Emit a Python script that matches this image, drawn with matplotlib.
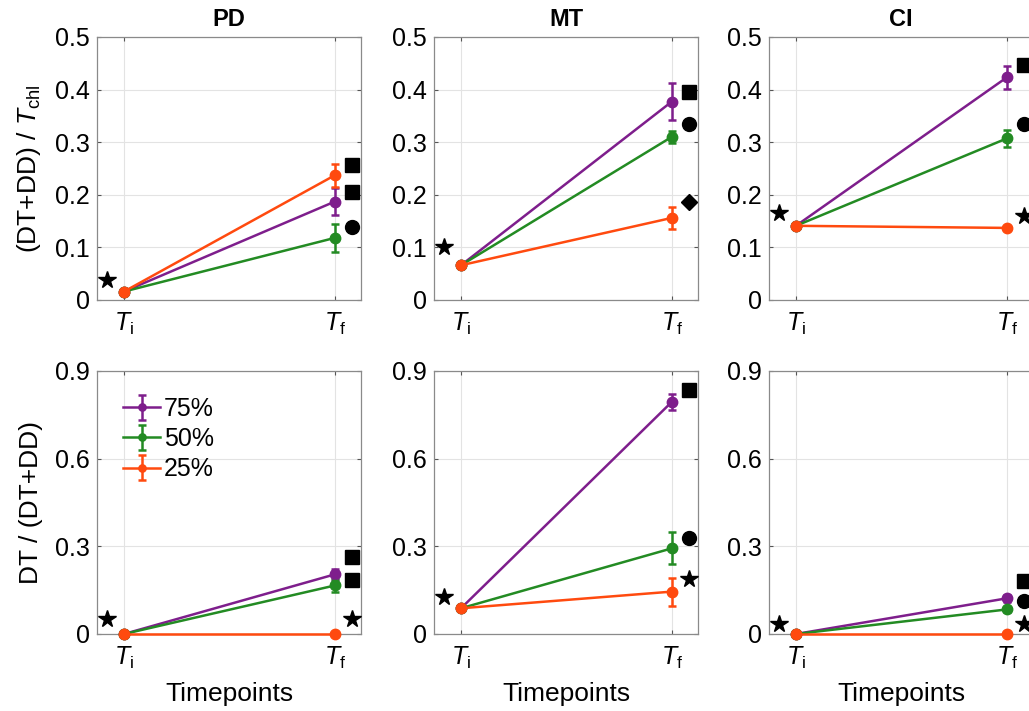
import matplotlib
matplotlib.use('Agg')
import matplotlib.pyplot as plt
import numpy as np

plt.rcParams['font.family'] = 'Liberation Sans'
plt.rcParams['mathtext.fontset'] = 'custom'
plt.rcParams['mathtext.rm'] = 'Liberation Sans'
plt.rcParams['mathtext.it'] = 'Liberation Sans:italic'

# data
panels = ['PD', 'MT', 'CI']
series = ['75%', '50%', '25%']
colors = ['#7E1E8C', '#238B23', '#FF4A0F']
timepoints = [1, 2]
tick_labels = [r'$T_\mathrm{i}$', r'$T_\mathrm{f}$']

# top row: (DT+DD)/Tchl, [panel][series] -> values at Ti, Tf
top_vals = [
    [[0.016, 0.187], [0.016, 0.118], [0.016, 0.237]],
    [[0.066, 0.377], [0.066, 0.310], [0.066, 0.156]],
    [[0.141, 0.423], [0.141, 0.307], [0.141, 0.137]],
]
top_err = [
    [[0.0, 0.026], [0.0, 0.027], [0.0, 0.022]],
    [[0.0, 0.035], [0.0, 0.011], [0.0, 0.021]],
    [[0.0, 0.022], [0.0, 0.017], [0.0, 0.0]],
]
# bottom row: DT/(DT+DD)
bot_vals = [
    [[0.0, 0.204], [0.0, 0.166], [0.0, 0.0]],
    [[0.088, 0.794], [0.088, 0.293], [0.088, 0.145]],
    [[0.0, 0.122], [0.0, 0.084], [0.0, 0.0]],
]
bot_err = [
    [[0.0, 0.020], [0.0, 0.021], [0.0, 0.0]],
    [[0.0, 0.026], [0.0, 0.055], [0.0, 0.048]],
    [[0.0, 0.012], [0.0, 0.008], [0.0, 0.0]],
]

# significance symbols: (x, y, marker)
top_sig = [
    [(0.92, 0.038, '*'), (2.08, 0.256, 's'), (2.08, 0.205, 's'), (2.08, 0.138, 'o')],
    [(0.92, 0.101, '*'), (2.08, 0.396, 's'), (2.08, 0.335, 'o'), (2.08, 0.187, 'D')],
    [(0.92, 0.165, '*'), (2.08, 0.446, 's'), (2.08, 0.335, 'o'), (2.08, 0.160, '*')],
]
bot_sig = [
    [(0.92, 0.050, '*'), (2.08, 0.264, 's'), (2.08, 0.185, 's'), (2.08, 0.050, '*')],
    [(0.92, 0.125, '*'), (2.08, 0.836, 's'), (2.08, 0.327, 'o'), (2.08, 0.187, '*')],
    [(0.92, 0.034, '*'), (2.08, 0.181, 's'), (2.08, 0.114, 'o'), (2.08, 0.034, '*')],
]

fig = plt.figure(figsize=(10.29, 7.11), dpi=100)

lefts = [0.0943, 0.4218, 0.7473]
w = 0.2566
h = 0.3699
bottoms = [0.5781, 0.1083]

sizes = {'*': 13, 's': 10, 'o': 10, 'D': 8}


def style_axes(ax, ylim, yticks):
    ax.set_xlim(0.872, 2.125)
    ax.set_ylim(*ylim)
    ax.set_yticks(yticks)
    ax.set_yticklabels(['0' if t == 0 else f'{t:g}' for t in yticks])
    ax.set_xticks(timepoints)
    ax.set_xticklabels(tick_labels)
    ax.grid(True, color='#e3e3e3', linewidth=0.8)
    ax.set_axisbelow(True)
    ax.tick_params(direction='in', length=3, labelsize=18, color='#555555', pad=5,
                   right=True, top=True)
    ax.tick_params(axis='x', pad=8)
    for s in ax.spines.values():
        s.set_color('#8a8a8a')
        s.set_linewidth(0.9)


for row, (vals, errs, sig, ylim, yticks) in enumerate([
        (top_vals, top_err, top_sig, (0, 0.5), [0, 0.1, 0.2, 0.3, 0.4, 0.5]),
        (bot_vals, bot_err, bot_sig, (0, 0.9), [0, 0.3, 0.6, 0.9])]):
    for col in range(3):
        ax = fig.add_axes([lefts[col], bottoms[row], w, h])
        style_axes(ax, ylim, yticks)
        handles = []
        for k in range(3):
            hnd = ax.errorbar(timepoints, vals[col][k], yerr=errs[col][k], color=colors[k],
                              marker='o', markersize=7.5, linewidth=1.8, capsize=3,
                              elinewidth=1.8, capthick=1.8, label=series[k], clip_on=False,
                              zorder=3)
            handles.append(hnd)
        for (sx, sy, m) in sig[col]:
            ax.plot(sx, sy, marker=m, color='black', markersize=sizes[m],
                    linestyle='none', clip_on=False, zorder=4)
        if row == 0:
            ax.set_title(panels[col], fontsize=17, fontweight='bold', pad=8)
        else:
            ax.set_xlabel('Timepoints', fontsize=19, labelpad=8)
        if col == 0:
            if row == 0:
                ax.set_ylabel(r'(DT+DD) / $T_\mathrm{chl}$', fontsize=19, labelpad=9)
            else:
                ax.set_ylabel('DT / (DT+DD)', fontsize=19, labelpad=9)
        if row == 1 and col == 0:
            ax.legend(handles=handles, loc='upper left', frameon=False, fontsize=18,
                      handlelength=1.5, handletextpad=0.15, labelspacing=0.25,
                      markerscale=0.7, borderaxespad=0.0, bbox_to_anchor=(0.06, 0.94))

fig.savefig('out.png', dpi=100)
